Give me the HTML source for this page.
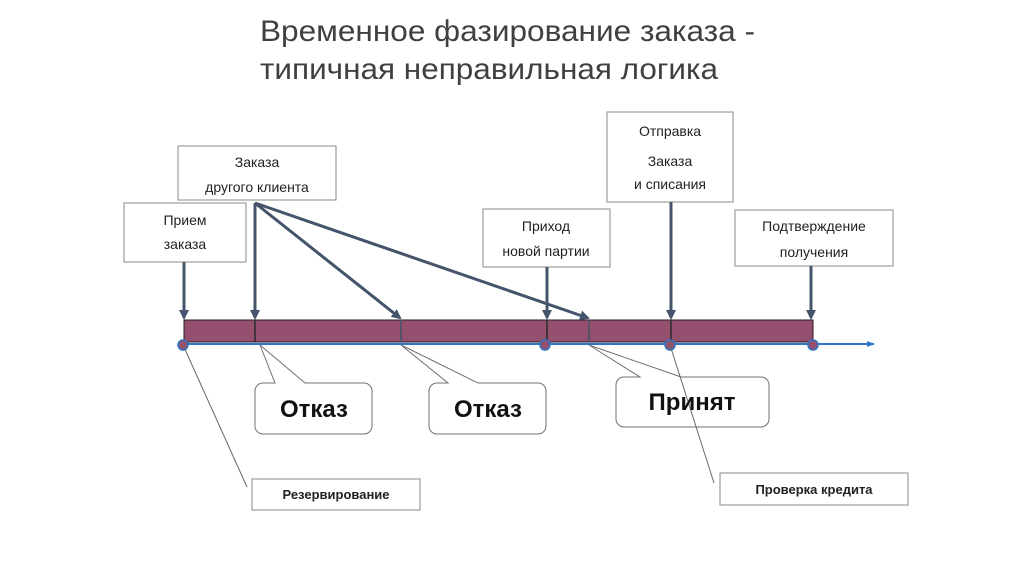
<!DOCTYPE html>
<html><head><meta charset="utf-8"><style>
body{margin:0;background:#fff}
svg{display:block}
text{font-family:"Liberation Sans","DejaVu Sans",sans-serif}
</style></head><body>
<svg width="1024" height="574" viewBox="0 0 1024 574" xmlns="http://www.w3.org/2000/svg">
<defs>
<marker id="ah" markerWidth="10" markerHeight="10" refX="8" refY="5" orient="auto" markerUnits="userSpaceOnUse" viewBox="0 0 10 10">
<path d="M0,0 L10,5 L0,10 z" fill="#44546a"/></marker>
<marker id="bh" markerWidth="8" markerHeight="8" refX="7" refY="4" orient="auto" markerUnits="userSpaceOnUse" viewBox="0 0 8 8">
<path d="M0,1 L8,4 L0,7 z" fill="#2e75c6"/></marker>
</defs>
<text x="260" y="41" font-size="30" fill="#404040" textLength="495" lengthAdjust="spacingAndGlyphs">Временное фазирование заказа -</text>
<text x="260" y="79" font-size="30" fill="#404040" textLength="458" lengthAdjust="spacingAndGlyphs">типичная неправильная логика</text>

<g fill="#fff" stroke="#8a8a8a" stroke-width="1">
<rect x="124" y="203" width="122" height="59"/>
<rect x="178" y="146" width="158" height="54"/>
<rect x="483" y="209" width="127" height="58"/>
<rect x="607" y="112" width="126" height="90"/>
<rect x="735" y="210" width="158" height="56"/>
<rect x="252" y="479" width="168" height="31"/>
<rect x="720" y="473" width="188" height="32"/>
</g>
<g font-size="14" fill="#222" text-anchor="middle">
<text x="185" y="225">Прием</text><text x="185" y="249">заказа</text>
<text x="257" y="167">Заказа</text><text x="257" y="192">другого клиента</text>
<text x="546" y="231">Приход</text><text x="546" y="256">новой партии</text>
<text x="670" y="136">Отправка</text><text x="670" y="166">Заказа</text><text x="670" y="189">и списания</text>
<text x="814" y="231">Подтверждение</text><text x="814" y="257">получения</text>
</g>
<g font-size="13" font-weight="bold" fill="#222" text-anchor="middle">
<text x="336" y="499">Резервирование</text>
<text x="814" y="494">Проверка кредита</text>
</g>

<line x1="180" y1="344" x2="874" y2="344" stroke="#2e75c6" stroke-width="2" marker-end="url(#bh)"/>
<rect x="184" y="320" width="629" height="22" fill="#94506e" stroke="#2a1a22" stroke-width="1"/>
<g stroke="#2a2a2a" stroke-width="1.5">
<line x1="255" y1="320" x2="255" y2="342"/><line x1="401" y1="320" x2="401" y2="342" stroke="#44546a"/>
<line x1="547" y1="320" x2="547" y2="342"/><line x1="589" y1="320" x2="589" y2="342" stroke="#44546a"/>
<line x1="671" y1="320" x2="671" y2="342"/>
</g>
<g fill="#94506e" stroke="#2e75c6" stroke-width="1.5">
<circle cx="183" cy="345" r="5"/><circle cx="545" cy="345" r="5"/><circle cx="670" cy="345" r="5"/><circle cx="813" cy="345" r="5"/>
</g>

<g stroke="#44546a" stroke-width="3" marker-end="url(#ah)">
<line x1="184" y1="262" x2="184" y2="318"/>
<line x1="255" y1="203" x2="255" y2="318"/>
<line x1="255" y1="203" x2="400" y2="318"/>
<line x1="255" y1="203" x2="588" y2="318"/>
<line x1="547" y1="267" x2="547" y2="318"/>
<line x1="671" y1="202" x2="671" y2="318"/>
<line x1="811" y1="266" x2="811" y2="318"/>
</g>

<g stroke="#606a75" stroke-width="1" fill="none">
<line x1="183" y1="345" x2="247" y2="487"/>
</g>
<g fill="#fff" stroke="#707070" stroke-width="1">
<path d="M265,383 H275 L260,345 L305,383 H364 a8,8 0 0 1 8,8 V426 a8,8 0 0 1 -8,8 H263 a8,8 0 0 1 -8,-8 V391 a8,8 0 0 1 8,-8 z"/>
<path d="M437,383 H448 L401,345 L478,383 H538 a8,8 0 0 1 8,8 V426 a8,8 0 0 1 -8,8 H437 a8,8 0 0 1 -8,-8 V391 a8,8 0 0 1 8,-8 z"/>
<path d="M624,377 H640 L589,345 L681,377 H761 a8,8 0 0 1 8,8 V419 a8,8 0 0 1 -8,8 H624 a8,8 0 0 1 -8,-8 V385 a8,8 0 0 1 8,-8 z"/>
</g>
<line x1="670" y1="345" x2="714" y2="483" stroke="#606a75" stroke-width="1"/>
<g font-size="24" font-weight="bold" fill="#111" text-anchor="middle">
<text x="314" y="417">Отказ</text>
<text x="488" y="417">Отказ</text>
<text x="692" y="410">Принят</text>
</g>
</svg>
</body></html>
